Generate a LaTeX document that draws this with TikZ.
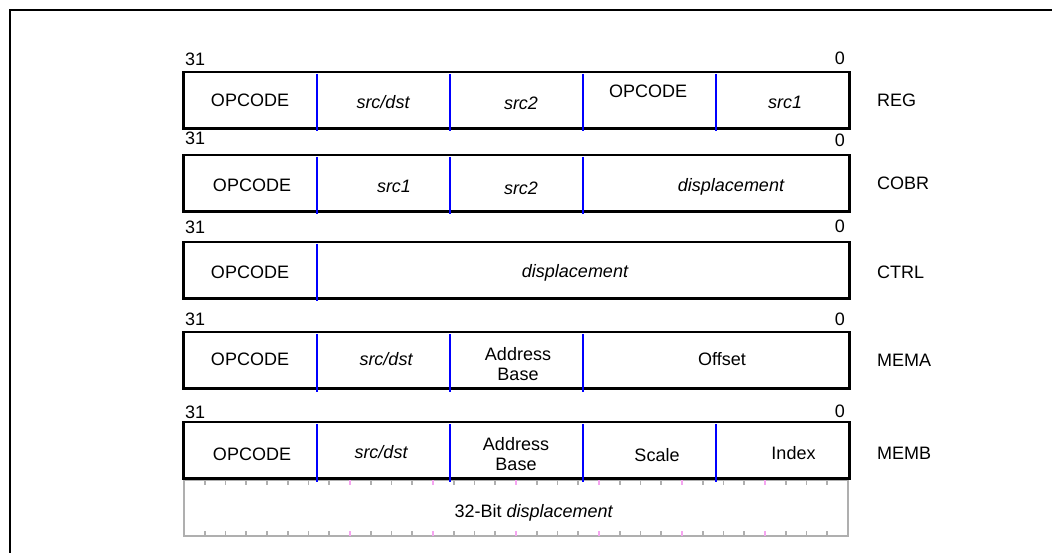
\documentclass[tikz,border=0pt]{standalone}
\usepackage{fontspec}
\setmainfont{Liberation Sans}
\definecolor{tickgray}{RGB}{175,175,175}
\definecolor{tickpink}{RGB}{245,165,240}
\tikzset{
  fieldbox/.style={draw=black,line width=2.2pt},
  divider/.style={draw=blue,line width=1.7pt},
  tick/.style={draw=tickgray,line width=1.6pt},
  field/.style={font=\fontsize{18}{20}\selectfont,inner sep=0pt,anchor=base,align=center},
  fieldit/.style={field,font=\fontsize{18}{20}\selectfont\itshape},
  hibit/.style={field,anchor=base west},
  lobit/.style={field,anchor=base east},
  fmtname/.style={field,anchor=base west},
}
\begin{document}
\begin{tikzpicture}[x=1pt,y=-1pt]
  \useasboundingbox (0,0) rectangle (1052,553);
  \draw[line width=2.3pt] (1052,10) -- (10,10) -- (10,553);

  \draw[tick] (184,480) rectangle (848,536);
  \foreach \i in {1,...,31}
    \draw[tick] (184+\i*20.75,480) -- ++(0,5) (184+\i*20.75,536) -- ++(0,-5);
  \foreach \i in {8,12,...,28}
    \draw[tick,draw=tickpink] (184+\i*20.75,480) -- ++(0,5) (184+\i*20.75,536) -- ++(0,-5);

  \foreach \t in {72,155,242,332,422}
    \draw[fieldbox] (183.5,\t) rectangle (849.5,\t+56.5);

  \foreach \t/\xs in {72/{316.7,449.9,583.1,716.3},155/{316.7,449.9,583.1},242/{316.7},332/{316.7,449.9,583.1},422/{316.7,449.9,583.1,716.3}}
    \foreach \x in \xs
      \draw[divider] (\x,\t+2) -- (\x,\t+59.5);

  \node[hibit] (reg-hi) at (185,66) {31};
  \node[lobit] (reg-lo) at (845,65) {0};
  \node[field] (reg-op) at (250,107) {OPCODE};
  \node[fieldit] (reg-dst) at (383,109) {src/dst};
  \node[fieldit] (reg-src2) at (521,110) {src2};
  \node[field] (reg-op2) at (648,98) {OPCODE};
  \node[fieldit] (reg-src1) at (785,109) {src1};
  \node[fmtname] (reg) at (877,107) {REG};

  \node[hibit] (cobr-hi) at (185,145) {31};
  \node[lobit] (cobr-lo) at (845,147) {0};
  \node[field] (cobr-op) at (252,192) {OPCODE};
  \node[fieldit] (cobr-src1) at (394,193) {src1};
  \node[fieldit] (cobr-src2) at (521,195) {src2};
  \node[fieldit] (cobr-disp) at (731,192) {displacement};
  \node[fmtname] (cobr) at (877,190) {COBR};

  \node[hibit] (ctrl-hi) at (185,234) {31};
  \node[lobit] (ctrl-lo) at (845,233) {0};
  \node[field] (ctrl-op) at (250,279) {OPCODE};
  \node[fieldit] (ctrl-disp) at (575,278) {displacement};
  \node[fmtname] (ctrl) at (877,279) {CTRL};

  \node[hibit] (mema-hi) at (185,326) {31};
  \node[lobit] (mema-lo) at (845,325) {0};
  \node[field] (mema-op) at (250,365) {OPCODE};
  \node[fieldit] (mema-dst) at (386,365) {src/dst};
  \node[field,anchor=center] (mema-base) at (518,364.5) {Address\\Base};
  \node[field] (mema-off) at (722,365) {Offset};
  \node[fmtname] (mema) at (877,366) {MEMA};

  \node[hibit] (memb-hi) at (185,418) {31};
  \node[lobit] (memb-lo) at (845,417) {0};
  \node[field] (memb-op) at (252,460) {OPCODE};
  \node[fieldit] (memb-dst) at (381,458) {src/dst};
  \node[field,anchor=center] (memb-base) at (516,454.5) {Address\\Base};
  \node[field] (memb-scale) at (657,461) {Scale};
  \node[field] (memb-idx) at (793.5,459) {Index};
  \node[fmtname] (memb) at (877,459) {MEMB};
  \node[field] (memb-disp) at (534,517) {32-Bit \textit{displacement}};
\end{tikzpicture}
\end{document}
